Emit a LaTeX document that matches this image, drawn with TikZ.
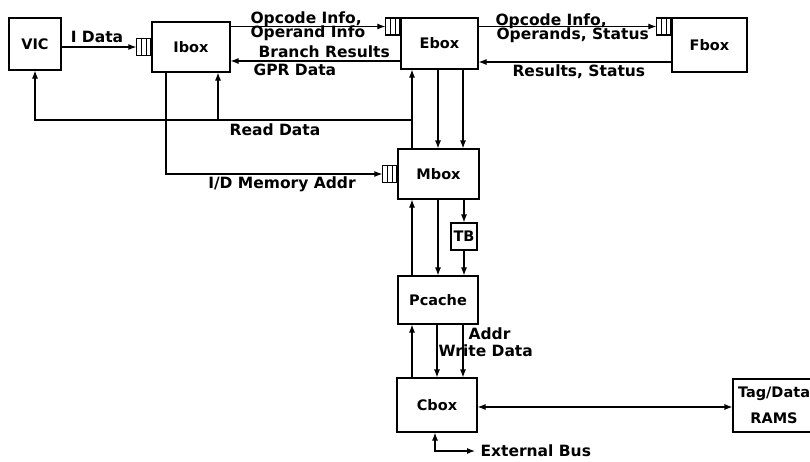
\documentclass[tikz,border=0pt]{standalone}
\usepackage{fontspec}
\setmainfont{DejaVu Sans}
\usetikzlibrary{arrows.meta, calc}

\begin{document}
\begin{tikzpicture}[x=1pt, y=-1pt, line width=1.1pt,
    font=\bfseries\fontsize{15.5}{15}\selectfont,
    unit/.style={draw, inner sep=0pt, font=\bfseries\fontsize{14.5}{15}\selectfont},
    fifo/.style={draw, inner sep=0pt, minimum width=14pt, minimum height=17pt},
    lbl/.style={inner sep=0pt},
    >={Latex[length=8pt, width=6pt]}]
  \useasboundingbox (0,0) rectangle (810,461);

  \node[unit, minimum width=52pt, minimum height=52pt] (vic) at (35,44) {VIC};
  \node[unit, minimum width=78pt, minimum height=50pt] (ibox) at (191,47) {Ibox};
  \node[unit, minimum width=77pt, minimum height=51pt] (ebox) at (439.5,43.5) {Ebox};
  \node[unit, minimum width=75pt, minimum height=54pt] (fbox) at (709.5,45) {Fbox};
  \node[unit, minimum width=81pt, minimum height=50pt] (mbox) at (438.5,174) {Mbox};
  \node[unit, minimum width=26pt, minimum height=27pt] (tb) at (464,236.5) {TB};
  \node[unit, minimum width=80pt, minimum height=48pt] (pcache) at (438,300) {Pcache};
  \node[unit, minimum width=80pt, minimum height=54pt] (cbox) at (437,405) {Cbox};
  \node[unit, minimum width=82pt, minimum height=53pt, align=center] (rams) at (774,405.5) {Tag/Data\\[11pt]RAMS};

  \node[fifo, anchor=east] (qI) at (ibox.west) {};
  \node[fifo, anchor=north east] (qE) at (ebox.north west) {};
  \node[fifo, anchor=north east] (qF) at (fbox.north west) {};
  \node[fifo, anchor=east] (qM) at (mbox.west) {};
  \foreach \q in {qI, qE, qF, qM} {
    \foreach \f in {0.333, 0.667}
      \draw[line width=0.9pt] ($(\q.north west)!\f!(\q.north east)$) -- ($(\q.south west)!\f!(\q.south east)$);
  }

  \coordinate (rd) at (412,120);
  \coordinate (rdI) at (218,120);
  \coordinate (xbus) at (475,451);

  \draw[->] (vic.east |- qI) -- (qI.west);
  \draw[->] (ibox.east |- qE) -- (qE.west);
  \draw[->] (ebox.east |- qF) -- (qF.west);
  \draw[->] (fbox.west |- 0,62) -- (ebox.east |- 0,62);
  \draw[->] (ebox.west |- 0,61) -- (ibox.east |- 0,61);

  \draw[->] (mbox.north -| rd) -- (ebox.south -| rd);
  \draw[->] (rd) -| (vic.south);
  \draw[->] (rdI) -- (ibox.south -| rdI);
  \draw[->] (ibox.south -| 166,0) |- (qM.west);

  \foreach \x in {438, 463}
    \draw[->] (ebox.south -| \x,0) -- (mbox.north -| \x,0);
  \draw[->] (mbox.south -| 438,0) -- (pcache.north -| 438,0);
  \draw[->] (mbox.south -| tb) -- (tb.north);
  \draw[->] (tb.south) -- (pcache.north -| tb);
  \draw[->] (pcache.north -| rd) -- (mbox.south -| rd);

  \draw[->] (cbox.north -| rd) -- (pcache.south -| rd);
  \foreach \x in {437, 463}
    \draw[->] (pcache.south -| \x,0) -- (cbox.north -| \x,0);
  \draw[<->] (cbox.east |- 0,407) -- (rams.west |- 0,407);
  \draw[<->] (cbox.south -| 435,0) |- (xbus);

  \node[lbl] (lidata) at (97,37) {I Data};
  \node[lbl, anchor=west] (lop1) at (250,19) {Opcode Info,};
  \node[lbl, anchor=west] (lop2) at (250,33) {Operand Info};
  \node[lbl, anchor=west] (lbr) at (258,52) {Branch Results};
  \node[lbl, anchor=west] (lgpr) at (253,70) {GPR Data};
  \node[lbl, anchor=west] (lop3) at (495,21) {Opcode Info,};
  \node[lbl, anchor=west] (lop4) at (496,35) {Operands, Status};
  \node[lbl, anchor=west] (lres) at (512,72) {Results, Status};
  \node[lbl] (lread) at (275,130) {Read Data};
  \node[lbl] (lmem) at (282,184) {I/D Memory Addr};
  \node[lbl, anchor=west] (laddr) at (468,334) {Addr};
  \node[lbl, anchor=west] (lwr) at (438,351) {Write Data};
  \node[lbl, anchor=west] (lext) at (480,451) {External Bus};
\end{tikzpicture}
\end{document}
